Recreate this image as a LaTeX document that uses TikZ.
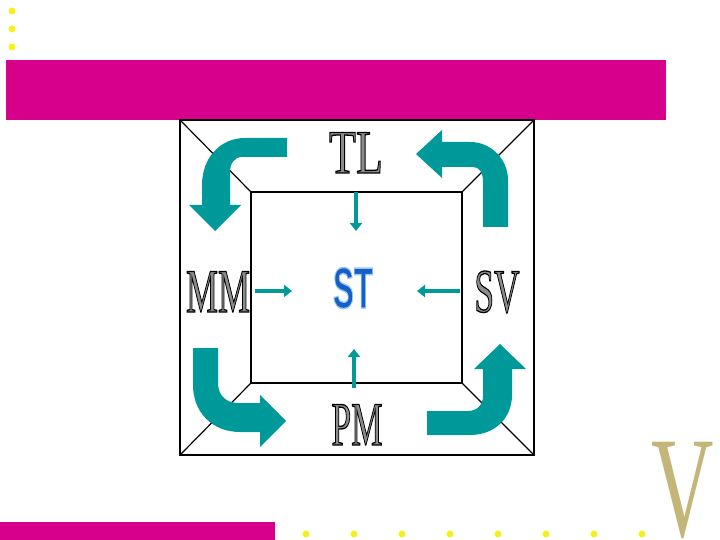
\documentclass[tikz,border=0pt]{standalone}
\usepackage{fontspec}
\setmainfont{Liberation Serif}
\newfontfamily\stfont{Liberation Sans}
\usetikzlibrary{arrows.meta}
\definecolor{teal0}{RGB}{0,153,153}
\definecolor{mag}{RGB}{214,0,140}
\definecolor{dotyel}{RGB}{245,240,30}
\definecolor{khaki0}{RGB}{196,182,120}
\definecolor{stblue}{RGB}{20,95,200}
\newcommand\wordart[1]{\textcolor{black!45}{\special{pdf:literal direct 2 Tr 1.3 w 0 G}#1\special{pdf:literal direct 0 Tr}}}
\newcommand\stword[1]{\textcolor{stblue}{\special{pdf:literal direct 2 Tr 1.4 w 0.59 0.78 0.96 RG}#1\special{pdf:literal direct 0 Tr}}}
\tikzset{
  lab/.style={font=\fontsize{62}{62}\selectfont, inner sep=0pt, anchor=base},
  bigarrow/.style={fill=teal0, draw=none},
  smallarrow/.style={draw=teal0, line width=4.5pt, -{Triangle[length=8pt,width=12pt]}},
  frame/.style={draw=black, line width=1.4pt},
  diag/.style={draw=black, line width=1.2pt},
  ydot/.style={fill=dotyel, draw=none}
}
\begin{document}
\begin{tikzpicture}[x=1pt,y=-1pt]
\useasboundingbox (0,0) rectangle (720,540);
% decorations
\foreach \yy in {11,29,47} \fill[ydot] (12,\yy) circle (3.5pt);
\foreach \xx in {306,354,402,450,498,546,594,642} \fill[ydot] (\xx,534) circle (3.5pt);
\fill[mag] (6,60) rectangle (666,120);
\fill[mag] (0,522) rectangle (275,540);
\node[font=\fontsize{144}{144}\selectfont, text=khaki0, inner sep=0pt, anchor=base, xscale=0.6] (V) at (683,536) {V};
% frames
\draw[frame] (180,120) rectangle (534,455);
\draw[frame] (251,192) rectangle (462,383);
\draw[diag] (180,120) -- (251,192);
\draw[diag] (534,120) -- (462,192);
\draw[diag] (180,455) -- (251,383);
\draw[diag] (534,455) -- (462,383);
% big curved arrows
\fill[bigarrow] (287,138) -- (245,138) .. controls (220,138) and (202,158) .. (202,185) -- (202,205) -- (189,205) -- (215,231) -- (241,205) -- (230,205) -- (230,172) .. controls (230,164) and (234,157) .. (242,157) -- (287,157) -- cycle;
\fill[bigarrow] (416,154) -- (442,130) -- (442,142) -- (470,142) .. controls (492,142) and (508,160) .. (508,180) -- (508,227) -- (483,227) -- (483,182) .. controls (483,172) and (479,167) .. (473,167) -- (442,167) -- (442,178) -- cycle;
\fill[bigarrow] (193,348) -- (193,385) .. controls (193,412) and (212,432) .. (240,432) -- (260,432) -- (260,447) -- (286,421) -- (260,395) -- (260,403) -- (238,403) .. controls (226,403) and (218,395) .. (218,383) -- (218,348) -- cycle;
\fill[bigarrow] (512,369) -- (512,395) .. controls (512,418) and (495,435) .. (470,435) -- (427,435) -- (427,411) -- (468,411) .. controls (477,411) and (483,405) .. (483,396) -- (483,369) -- (474,369) -- (500,344) -- (526,369) -- cycle;
% labels
\node[lab, xscale=0.71] (TL) at (356,173) {\wordart{TL}};
\node[lab, xscale=0.58] (MM) at (218,312) {\wordart{MM}};
\node[lab, xscale=0.57] (SV) at (497,312) {\wordart{SV}};
\node[lab, xscale=0.57] (PM) at (357,445) {\wordart{PM}};
\node[inner sep=0pt, anchor=base, font=\stfont\bfseries\fontsize{58}{58}\selectfont, xscale=0.54] (ST) at (353,308) {\stword{ST}};
% small arrows
\coordinate (a1) at (356,192); \coordinate (b1) at (356,231);
\coordinate (a2) at (255,291); \coordinate (b2) at (292,291);
\coordinate (a3) at (460,291); \coordinate (b3) at (417,291);
\coordinate (a4) at (354,388); \coordinate (b4) at (354,349);
\draw[smallarrow] (a1) -- (b1);
\draw[smallarrow] (a2) -- (b2);
\draw[smallarrow] (a3) -- (b3);
\draw[smallarrow] (a4) -- (b4);
\end{tikzpicture}
\end{document}
